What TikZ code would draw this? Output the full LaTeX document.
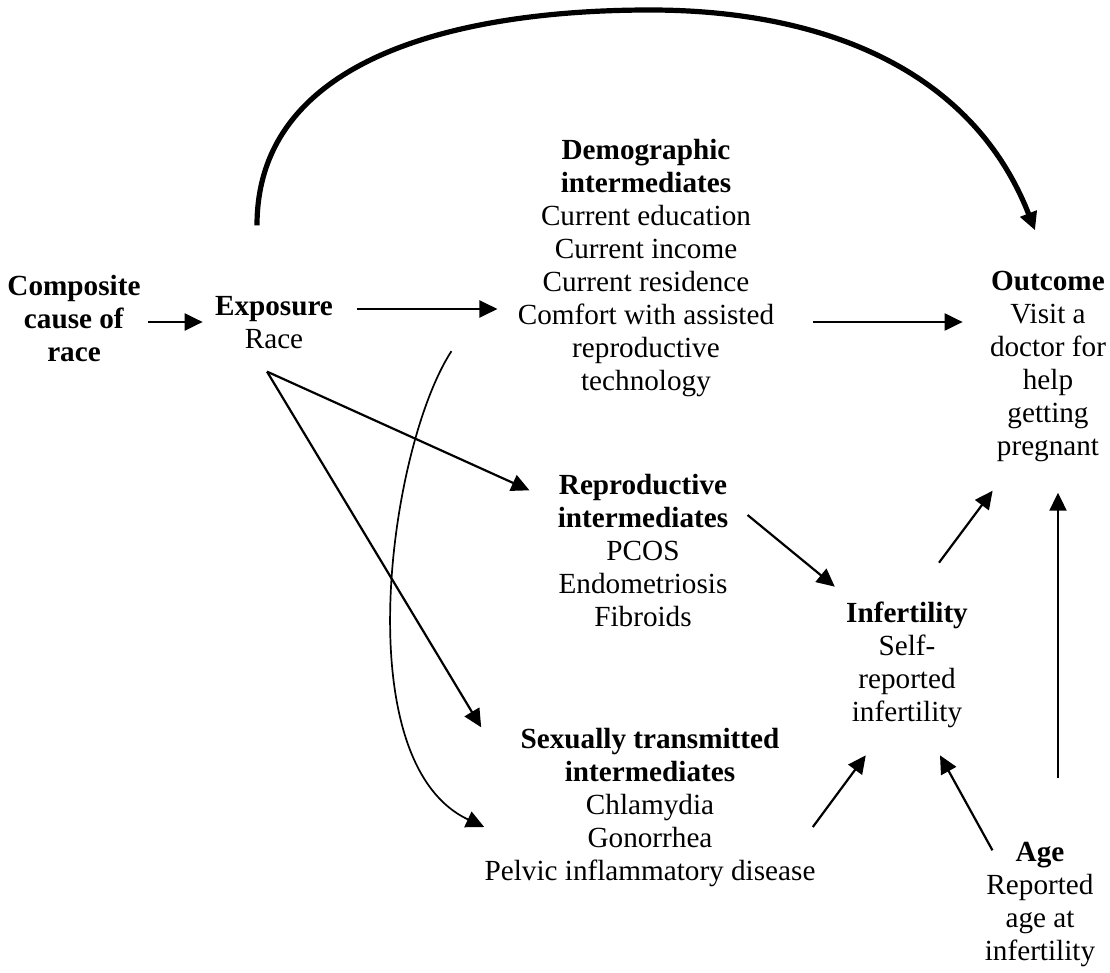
\documentclass[tikz,border=0pt]{standalone}
\usepackage{fontspec}
\setmainfont{Liberation Serif}
\usepackage{tikz}
\usetikzlibrary{arrows.meta,positioning}
\tikzstyle{varnode} = [align=center, inner sep=0pt, font=\fontsize{14.6pt}{16.5pt}\selectfont]
\tikzstyle{causal} = [-{Triangle[length=9pt,width=8.5pt]}, line width=1.1pt]
\tikzstyle{causalthin} = [causal, line width=0.85pt]
\tikzstyle{causalbig} = [causal, line width=2.6pt]
\begin{document}
\begin{tikzpicture}[x=0.5pt,y=-0.5pt]
	\useasboundingbox (0,0) rectangle (1110,973);
	\node[varnode] (comp) at (74,319) {\textbf{Composite}\\\textbf{cause of}\\\textbf{race}};
	\node[varnode] (expo) at (274,323) {\textbf{Exposure}\\Race};
	\node[varnode] (demo) at (646,268) {\textbf{Demographic}\\\textbf{intermediates}\\Current education\\Current income\\Current residence\\Comfort with assisted\\reproductive\\technology};
	\node[varnode] (outc) at (1048,366) {\textbf{Outcome}\\Visit a\\doctor for\\help\\getting\\pregnant};
	\node[varnode] (repr) at (643,551) {\textbf{Reproductive}\\\textbf{intermediates}\\PCOS\\Endometriosis\\Fibroids};
	\node[varnode] (infe) at (907,665) {\textbf{Infertility}\\Self-\\reported\\infertility};
	\node[varnode] (sext) at (650,808) {\textbf{Sexually transmitted}\\\textbf{intermediates}\\Chlamydia\\Gonorrhea\\Pelvic inflammatory disease};
	\node[varnode] (age) at (1040,905) {\textbf{Age}\\Reported\\age at\\infertility};
	\coordinate (arctop) at (650,10);
	\draw[causal] ([shift={(7,3)}]comp.east) -- ([shift={(-12,-1)}]expo.west);
	\draw[causal] ([shift={(24,-14)}]expo.east) -- ([shift={(-20,41)}]demo.west);
	\draw[causal] ([shift={(38,54)}]demo.east) -- ([shift={(-27,-44)}]outc.west);
	\draw[causal] ([shift={(-7,22)}]expo.south) -- ([shift={(-28,16)}]repr.north west);
	\draw[causal] ([shift={(-7,22)}]expo.south) -- ([shift={(-3,-1)}]sext.north west);
	\draw[causalthin] ([shift={(-66,-46)}]demo.south west) .. controls +(-62,95) and +(-139,-65) .. ([shift={(0,19)}]sext.west);
	\draw[causalbig] ([shift={(-17,-71)}]expo.north) .. controls +(0,-175) and +(-175,0) .. (arctop) .. controls +(173,0) and +(-63,-161) .. ([shift={(-13,-40)}]outc.north);
	\draw[causal] ([shift={(19,-36)}]repr.east) -- ([shift={(-11,-15)}]infe.north west);
	\draw[causal] ([shift={(32,-39)}]infe.north) -- ([shift={(3,29)}]outc.south west);
	\draw[causal] ([shift={(-3,19)}]sext.east) -- ([shift={(20,27)}]infe.south west);
	\draw[causal] ([shift={(8,8)}]age.north west) -- ([shift={(33,27)}]infe.south);
	\draw[causal] ([shift={(18,-64)}]age.north) -- ([shift={(10,31)}]outc.south);
\end{tikzpicture}
\end{document}
